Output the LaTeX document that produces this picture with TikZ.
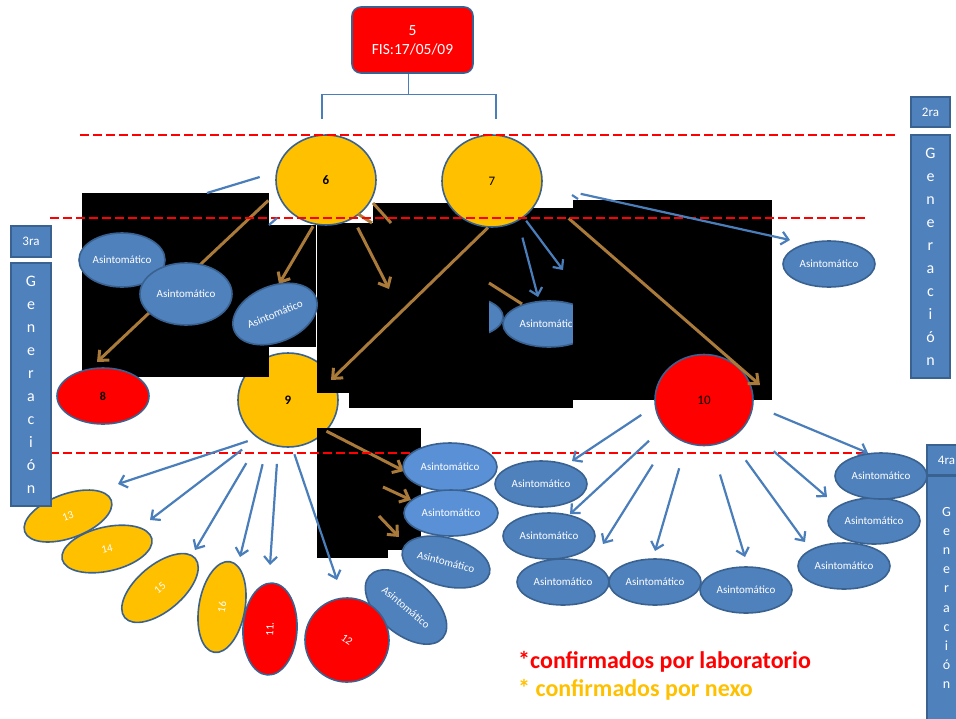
\documentclass[tikz,border=0pt]{standalone}
\usepackage{fontspec}
\setmainfont{Carlito}
\usetikzlibrary{arrows.meta,shapes.geometric,positioning}
\definecolor{caseyellow}{HTML}{FFC000}
\definecolor{casered}{HTML}{FF0000}
\definecolor{caseblue}{HTML}{4F81BD}
\definecolor{lightblue}{HTML}{5A90D6}
\definecolor{edgeblue}{HTML}{3A6291}
\definecolor{arrowblue}{HTML}{4A7EBB}
\definecolor{arrowbrown}{HTML}{A97A3A}
\tikzset{
	case/.style={ellipse, draw=edgeblue, line width=1.6pt, inner sep=0pt},
	yellowcase/.style={case, fill=caseyellow},
	redcase/.style={case, fill=casered},
	asin/.style={case, fill=caseblue, text=white, font=\fontsize{11}{13}\selectfont},
	genbox/.style={draw=edgeblue, fill=caseblue, line width=1.6pt, text=white, inner sep=0pt, align=center},
	tree/.style={draw=arrowblue, line width=1.3pt},
	blueline/.style={draw=arrowblue, line width=2.2pt},
	bluearrow/.style={blueline, -{Straight Barb[length=7pt,width=13pt]}},
	brownline/.style={draw=arrowbrown, line width=3pt},
	brownarrow/.style={brownline, -{Straight Barb[length=8pt,width=14pt]}},
	gensep/.style={draw=casered, line width=2pt, dash pattern=on 9pt off 4pt}
}

\begin{document}
\begin{tikzpicture}[x=1pt, y=-1pt]
	\useasboundingbox (0,0) rectangle (956,718);

	% free ends of the connectors
	\foreach \n/\xa/\ya in {t1/97/362, t2/279/284, t3/389/289, t4/331/380, t5/760/385, t6/404/471,
			u1/538/297, u2/563/270, u3/790/240,
			v1/118/484, v2/150/520, v3/195/550, v4/240/557, v5/270/565, v6/337/580,
			w1/572/461, w2/570/514, w3/603/544, w4/655/551, w5/745/557, w6/805/542, w7/827/497, w8/868/453,
			j6/322/119, j7/496/119, k1/207/193,
			f3/489/283, f4/522/304, f5/383/487, f6/411/500, f7/379/516, f8/399/537,
			f9/373/203, f10/391/223, f11/358/214, f12/372/223,
			f13/269/225, f14/277/218, f15/572/195, f16/578/199}
		\coordinate (\n) at (\xa,\ya);

	\node[yellowcase, minimum width=100pt, minimum height=94pt, font=\fontsize{13}{15}\selectfont\bfseries] (c9) at (288,400) {9};

	% black picture areas
	\foreach \xa/\ya/\xb/\yb in {82/193/269/377, 269/225/316/347, 317/223/573/393, 373/203/532/223,
			532/208/573/223, 349/393/573/408, 317/428/421/550, 317/550/388/558}
		\fill[black] (\xa,\ya) rectangle (\xb,\yb);

	\begin{scope}
		\clip (489,290) rectangle (520,345);
		\node[asin, minimum width=86pt, minimum height=42pt] (p1) at (460,317) {Asintomático};
	\end{scope}
	\draw[brownline] (f3) -- (f4);
	\node[asin, minimum width=92pt, minimum height=46pt] (p2) at (549,324) {Asintomático};
	\fill[black] (573,200) rectangle (772,400);

	% cases
	\node[redcase, rectangle, rounded corners=9pt, minimum width=121pt, minimum height=66pt, align=center,
		text=white, font=\fontsize{15.5}{19}\selectfont] (c5) at (412.5,40) {5\\FIS:17/05/09};
	\draw[tree] ([xshift=-4pt]c5.south) -- ++(0,21) coordinate (jm) -| (j6);
	\draw[tree] (jm) -| (j7);
	\node[yellowcase, minimum width=100pt, minimum height=90pt, font=\fontsize{13}{15}\selectfont\bfseries] (c6) at (326,180) {6};
	\node[yellowcase, minimum width=100pt, minimum height=92pt, font=\fontsize{13}{15}\selectfont] (c7) at (492,181) {7};
	\node[redcase, minimum width=92pt, minimum height=56pt, font=\fontsize{12}{14}\selectfont\bfseries] (c8) at (103,396) {8};
	\node[redcase, minimum width=98pt, minimum height=91pt, font=\fontsize{13}{15}\selectfont] (c10) at (704,400) {10};

	% links by nexo
	\foreach \s/\a/\g/\t in {c6/194/12/t1, c6/255/2/t2, c6/305/10/t3, c7/265/0/t4, c7/345/37/t5, c9/321/0/t6}
		\draw[brownarrow, shorten <=\g pt] (\s.\a) -- (\t);
	\draw[brownarrow] (f5) -- (f6);
	\draw[brownarrow] (f7) -- (f8);
	\draw[brownline] (f9) -- (f10);
	\draw[brownline] (f11) -- (f12);

	\node[asin, minimum width=86pt, minimum height=54pt] (a1) at (122,260) {Asintomático};
	\node[asin, minimum width=92pt, minimum height=62pt] (a2) at (186,294) {Asintomático};
	\node[asin, minimum width=88pt, minimum height=56pt, rotate=22] (a3) at (275,314) {Asintomático};

	% generations
	\draw[gensep] (80,135) -- (897,135);
	\draw[gensep] (50,218) -- (866,218);
	\draw[gensep] (50,453) -- (866,453);

	% contacts
	\draw[blueline, shorten <=17pt] (c6.171) -- (k1);
	\draw[blueline] (f13) -- (f14);
	\draw[blueline] (f15) -- (f16);
	\foreach \s/\a/\g/\t in {c7/303/17/u1, c7/311/4/u2, c7/355/39/u3,
			c9/231/10/v1, c9/231/19/v2, c9/235/27/v3, c9/245/21/v4, c9/258/17/v5, c9/275/7/v6,
			c10/187/16/w1, c10/214/20/w2, c10/227/35/w3, c10/248/26/w4, c10/279/30/w5,
			c10/304/26/w6, c10/327/38/w7, c10/354/22/w8}
		\draw[bluearrow, shorten <=\g pt] (\s.\a) -- (\t);

	\node[asin, minimum width=92pt, minimum height=46pt] (a4) at (829,264) {Asintomático};
	\node[asin, fill=lightblue, minimum width=94pt, minimum height=48pt] (a5) at (450,467) {Asintomático};
	\node[asin, fill=lightblue, minimum width=94pt, minimum height=46pt] (a6) at (451,513) {Asintomático};
	\node[asin, minimum width=90pt, minimum height=48pt, rotate=-15] (a7) at (446,562) {Asintomático};
	\node[asin, minimum width=96pt, minimum height=54pt, rotate=-40] (a8) at (406,607) {Asintomático};
	\foreach \n/\xa/\ya in {a9/541/484, a10/549/536, a11/563/582, a12/655/582, a13/746/590,
			a14/844/566, a15/874/521, a16/881/476}
		\node[asin, minimum width=92pt, minimum height=46pt] (\n) at (\xa,\ya) {Asintomático};

	\node[yellowcase, text=white, minimum width=92pt, minimum height=44pt, rotate=20, font=\fontsize{11}{13}\selectfont] (e13) at (68,516) {13};
	\node[yellowcase, text=white, minimum width=92pt, minimum height=44pt, rotate=13, font=\fontsize{11}{13}\selectfont] (e14) at (107,549) {14};
	\node[yellowcase, text=white, minimum width=92pt, minimum height=46pt, rotate=40, font=\fontsize{11}{13}\selectfont] (e15) at (160,588) {15};
	\node[yellowcase, text=white, minimum width=92pt, minimum height=46pt, rotate=80, font=\fontsize{11}{13}\selectfont] (e16) at (222,607) {16};
	\node[redcase, text=white, minimum width=92pt, minimum height=54pt, rotate=87, font=\fontsize{11}{13}\selectfont] (e11) at (270,629) {11.};
	\node[redcase, text=white, minimum width=84pt, minimum height=84pt, rotate=-35, font=\fontsize{11}{13}\selectfont] (e12) at (347,640) {12};

	% generation labels
	\node[genbox, minimum width=39pt, minimum height=30pt, font=\fontsize{13}{15}\selectfont] (g2) at (930.5,112) {2ra};
	\node[genbox, minimum width=39pt, minimum height=243pt, font=\fontsize{16}{23}\selectfont] (g2gen) at (930.5,256.5) {G\\e\\n\\e\\r\\a\\c\\i\\ó\\n};
	\node[genbox, minimum width=40pt, minimum height=31pt, font=\fontsize{13}{15}\selectfont] (g3) at (31,241.5) {3ra};
	\node[genbox, minimum width=40pt, minimum height=243pt, font=\fontsize{16}{23}\selectfont] (g3gen) at (31,384.5) {G\\e\\n\\e\\r\\a\\c\\i\\ó\\n};
	\node[genbox, minimum width=39pt, minimum height=30pt, font=\fontsize{13}{15}\selectfont] (g4) at (946.5,460) {4ra};
	\node[genbox, minimum width=39pt, minimum height=244pt, font=\fontsize{14}{19.2}\selectfont] (g4gen) at (946.5,598) {G\\e\\n\\e\\r\\a\\c\\i\\ó\\n};

	% legend
	\node[anchor=west, inner sep=0pt, text=casered, font=\fontsize{24}{28}\selectfont\bfseries] (lab) at (518,662) {*confirmados por laboratorio};
	\node[anchor=west, inner sep=0pt, text=caseyellow, font=\fontsize{24}{28}\selectfont\bfseries] (nex) at (518,690) {* confirmados por nexo};
\end{tikzpicture}
\end{document}
